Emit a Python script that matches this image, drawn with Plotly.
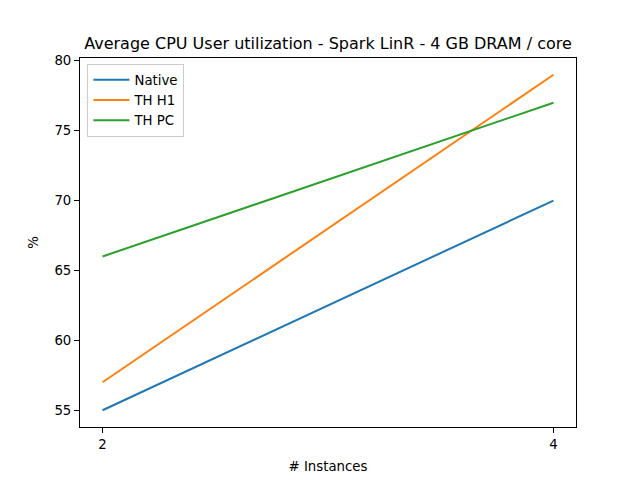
import plotly.graph_objects as go

instances = [2, 4]
native = [55, 70]
th_h1 = [57, 79]
th_pc = [66, 77]

fig = go.Figure()
for name, vals, col in [("Native", native, "#1f77b4"), ("TH H1", th_h1, "#ff7f0e"), ("TH PC", th_pc, "#2ca02c")]:
    fig.add_trace(go.Scatter(x=instances, y=vals, mode="lines", name=name, line=dict(color=col, width=2)))

fig.update_layout(
    width=640, height=480,
    margin=dict(l=72, r=72, t=50, b=61),
    paper_bgcolor="white", plot_bgcolor="white",
    font=dict(family="DejaVu Sans", size=13.3, color="black"),
    title=dict(text="Average CPU User utilization - Spark LinR - 4 GB DRAM / core", x=0.5, xanchor="center", y=1 - 35/480, yanchor="middle", font=dict(size=16)),
    legend=dict(x=0.015, y=0.985, xanchor="left", yanchor="top", bordercolor="#cccccc", borderwidth=1,
                bgcolor="rgba(255,255,255,0.8)", font=dict(size=13.3), itemwidth=36, tracegroupgap=2),
    showlegend=True,
)
fig.update_xaxes(range=[1.9, 4.1], tickvals=[2, 4], ticktext=["2", "4"], showgrid=False, zeroline=False,
                 showline=True, linecolor="black", linewidth=1, mirror=True, ticks="outside", ticklen=5, tickcolor="black",
                 tickfont=dict(size=13.3), title=dict(text="# Instances", standoff=10, font=dict(size=13.3)))
fig.update_yaxes(range=[53.8, 80.2], tickvals=[55, 60, 65, 70, 75, 80], showgrid=False, zeroline=False,
                 showline=True, linecolor="black", linewidth=1, mirror=True, ticks="outside", ticklen=5, tickcolor="black",
                 tickfont=dict(size=13.3), title=dict(text="%", standoff=12, font=dict(size=13.3)))
fig.write_html("out.html")
